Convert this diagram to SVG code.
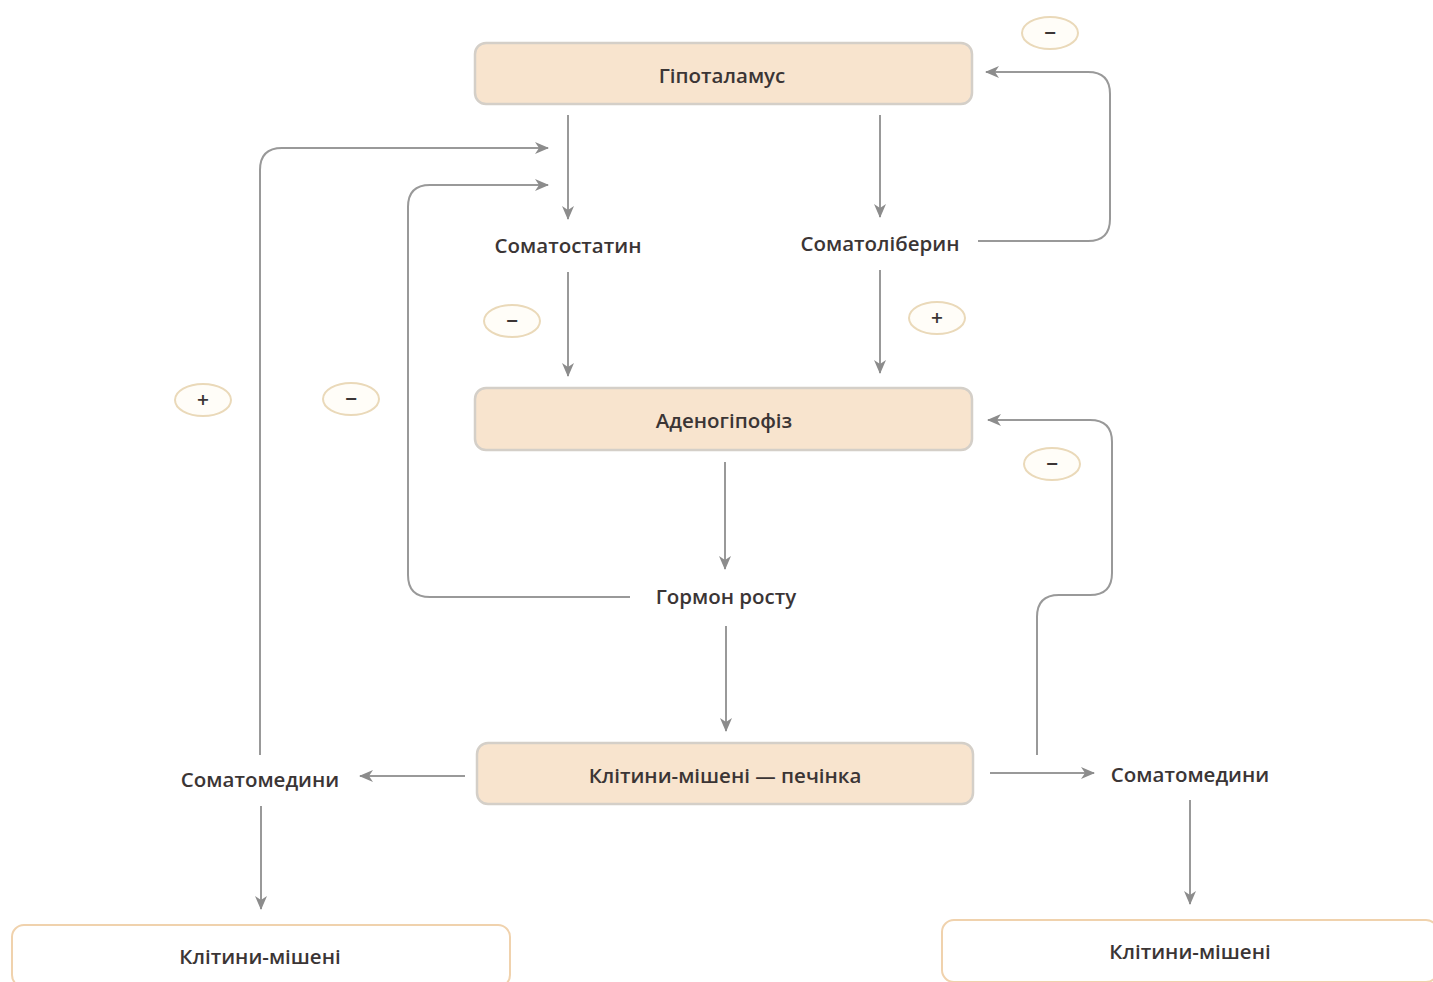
<svg xmlns="http://www.w3.org/2000/svg" width="1433" height="982" viewBox="0 0 1433 982">
  <defs>
    <marker id="arrow" markerWidth="14" markerHeight="12" refX="13" refY="6" orient="auto" markerUnits="userSpaceOnUse">
      <path d="M0,0 L14,6 L0,12 L4,6 Z" fill="#8c8c8c"/>
    </marker>
    <style>
      .box { fill: #f8e4ce; stroke: #d4cfc8; stroke-width: 2.5; }
      .target { fill: #ffffff; stroke: #f0d2ad; stroke-width: 2; }
      .lbl { font-family: "Open Sans", "Noto Sans", "DejaVu Sans", sans-serif; font-size: 20.5px; font-weight: 600; fill: #3b3535; text-anchor: middle; dominant-baseline: central; }
      .line { fill: none; stroke: #999999; stroke-width: 2; }
      .arr { fill: none; stroke: #999999; stroke-width: 2; marker-end: url(#arrow); }
      .sign { fill: #fffdf8; stroke: #ead9b9; stroke-width: 2; }
      .signtxt { font-family: "DejaVu Sans", sans-serif; font-size: 16px; font-weight: bold; fill: #3b3535; text-anchor: middle; dominant-baseline: central; }
    </style>
  </defs>
  <rect width="1433" height="982" fill="#ffffff"/>

  <!-- connectors -->
  <g id="connectors">
    <!-- hypothalamus outputs -->
    <path class="arr" d="M568,115 V219"/>
    <path class="arr" d="M880,115 V217"/>
    <!-- releasing / inhibiting hormones to adenohypophysis -->
    <path class="arr" d="M568,272 V376"/>
    <path class="arr" d="M880,270 V373"/>
    <!-- somatoliberin loops back to hypothalamus -->
    <path class="arr" d="M978,241 H1088 Q1110,241 1110,219 V94 Q1110,72 1088,72 H986"/>
    <!-- adenohypophysis to growth hormone -->
    <path class="arr" d="M725,462 V569"/>
    <!-- growth hormone feedback to somatostatin -->
    <path class="arr" d="M630,597 H430 Q408,597 408,575 V207 Q408,185 430,185 H548"/>
    <!-- growth hormone to liver -->
    <path class="arr" d="M726,626 V731"/>
    <!-- somatomedins from liver -->
    <path class="arr" d="M465,776 H360"/>
    <path class="arr" d="M990,773 H1094"/>
    <!-- left somatomedins feedback to hypothalamus -->
    <path class="arr" d="M260,755 V170 Q260,148 282,148 H548"/>
    <!-- right somatomedins feedback to adenohypophysis -->
    <path class="arr" d="M1037,755 V617 Q1037,595 1059,595 H1090 Q1112,595 1112,573 V442 Q1112,420 1090,420 H988"/>
    <!-- somatomedins to target cells -->
    <path class="arr" d="M261,806 V909"/>
    <path class="arr" d="M1190,800 V904"/>
  </g>

  <!-- effect signs -->
  <g id="signs">
    <g id="sign-hypo-minus"><ellipse class="sign" cx="1050" cy="33" rx="28" ry="16"/><text class="signtxt" x="1050" y="32">−</text></g>
    <g id="sign-ss-minus"><ellipse class="sign" cx="512" cy="321" rx="28" ry="16"/><text class="signtxt" x="512" y="320">−</text></g>
    <g id="sign-sl-plus"><ellipse class="sign" cx="937" cy="318" rx="28" ry="16"/><text class="signtxt" x="937" y="317">+</text></g>
    <g id="sign-left-plus"><ellipse class="sign" cx="203" cy="400" rx="28" ry="16"/><text class="signtxt" x="203" y="399">+</text></g>
    <g id="sign-gh-minus"><ellipse class="sign" cx="351" cy="399" rx="28" ry="16"/><text class="signtxt" x="351" y="398">−</text></g>
    <g id="sign-adeno-minus"><ellipse class="sign" cx="1052" cy="464" rx="28" ry="16"/><text class="signtxt" x="1052" y="463">−</text></g>
  </g>

  <!-- nodes -->
  <g id="hypothalamus">
    <rect class="box" x="475" y="43" width="497" height="61" rx="11"/>
    <text class="lbl" x="722" y="75">Гіпоталамус</text>
  </g>
  <g id="somatostatin">
    <text class="lbl" x="568" y="245">Соматостатин</text>
  </g>
  <g id="somatoliberin">
    <text class="lbl" x="880" y="243">Соматоліберин</text>
  </g>
  <g id="adenohypophysis">
    <rect class="box" x="475" y="388" width="497" height="62" rx="11"/>
    <text class="lbl" x="724" y="420">Аденогіпофіз</text>
  </g>
  <g id="growth-hormone">
    <text class="lbl" x="726" y="596">Гормон росту</text>
  </g>
  <g id="liver">
    <rect class="box" x="477" y="743" width="496" height="61" rx="11"/>
    <text class="lbl" x="725" y="775">Клітини-мішені — печінка</text>
  </g>
  <g id="somatomedins-left">
    <text class="lbl" x="260" y="779">Соматомедини</text>
  </g>
  <g id="somatomedins-right">
    <text class="lbl" x="1190" y="774">Соматомедини</text>
  </g>
  <g id="targets-left">
    <rect class="target" x="12" y="925" width="498" height="62" rx="12"/>
    <text class="lbl" x="260" y="956">Клітини-мішені</text>
  </g>
  <g id="targets-right">
    <rect class="target" x="942" y="920" width="496" height="62" rx="12"/>
    <text class="lbl" x="1190" y="951">Клітини-мішені</text>
  </g>
</svg>
